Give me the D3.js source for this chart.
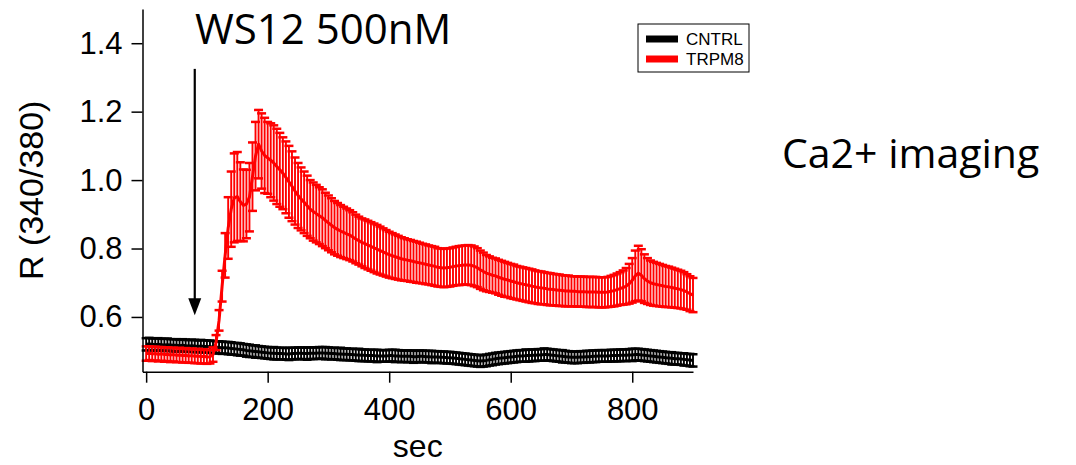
<!DOCTYPE html>
<html>
<head>
<meta charset="utf-8">
<script src="https://cdn.jsdelivr.net/npm/d3@7"></script>
<style>
  body { margin: 0; background: #fff; }
  svg { display: block; }
</style>
</head>
<body>
<script>
// sample interval of the recordings (sec)
const dt = 5;

// CNTRL mean / sem, one value every 5 s from 0 to 900
const cntrlMean = [
  0.520, 0.521, 0.520, 0.519, 0.520, 0.519, 0.518, 0.519, 0.518, 0.517,
  0.517, 0.516, 0.517, 0.516, 0.515, 0.516, 0.515, 0.514, 0.515, 0.514,
  0.514, 0.513, 0.512, 0.512, 0.511, 0.510, 0.510, 0.509, 0.508, 0.507,
  0.506, 0.505, 0.504, 0.502, 0.501, 0.500, 0.499, 0.498, 0.497, 0.496,
  0.495, 0.494, 0.494, 0.493, 0.493, 0.493, 0.492, 0.492, 0.493, 0.493,
  0.494, 0.494, 0.493, 0.493, 0.494, 0.494, 0.494, 0.495, 0.495, 0.494,
  0.494, 0.493, 0.493, 0.492, 0.492, 0.491, 0.491, 0.490, 0.490, 0.489,
  0.489, 0.488, 0.488, 0.487, 0.487, 0.487, 0.486, 0.486, 0.486, 0.486,
  0.487, 0.487, 0.486, 0.486, 0.485, 0.485, 0.485, 0.485, 0.484, 0.484,
  0.485, 0.485, 0.484, 0.484, 0.483, 0.483, 0.483, 0.482, 0.482, 0.481,
  0.481, 0.480, 0.479, 0.478, 0.477, 0.476, 0.475, 0.474, 0.473, 0.472,
  0.471, 0.472, 0.473, 0.475, 0.476, 0.478, 0.479, 0.480, 0.481, 0.482,
  0.483, 0.484, 0.485, 0.486, 0.486, 0.487, 0.487, 0.488, 0.488, 0.489,
  0.489, 0.490, 0.490, 0.489, 0.488, 0.487, 0.486, 0.485, 0.484, 0.483,
  0.482, 0.482, 0.482, 0.483, 0.483, 0.484, 0.484, 0.485, 0.485, 0.486,
  0.486, 0.486, 0.486, 0.487, 0.487, 0.487, 0.488, 0.488, 0.488, 0.489,
  0.489, 0.490, 0.490, 0.489, 0.488, 0.487, 0.486, 0.485, 0.484, 0.483,
  0.482, 0.481, 0.480, 0.479, 0.478, 0.478, 0.477, 0.476, 0.475, 0.474,
  0.473
];
const cntrlErr = [
  0.018, 0.018, 0.017, 0.018, 0.018, 0.017, 0.018, 0.018, 0.017, 0.018,
  0.018, 0.017, 0.018, 0.018, 0.017, 0.018, 0.018, 0.017, 0.018, 0.018,
  0.017, 0.018, 0.018, 0.017, 0.018, 0.018, 0.017, 0.018, 0.018, 0.017,
  0.018, 0.018, 0.017, 0.018, 0.018, 0.017, 0.018, 0.017, 0.017, 0.017,
  0.017, 0.017, 0.018, 0.017, 0.017, 0.017, 0.017, 0.018, 0.017, 0.017,
  0.017, 0.017, 0.017, 0.018, 0.017, 0.017, 0.017, 0.017, 0.017, 0.018,
  0.017, 0.017, 0.017, 0.017, 0.018, 0.017, 0.017, 0.017, 0.017, 0.017,
  0.018, 0.017, 0.017, 0.017, 0.017, 0.017, 0.018, 0.017, 0.017, 0.017,
  0.017, 0.017, 0.018, 0.017, 0.017, 0.017, 0.017, 0.017, 0.018, 0.017,
  0.017, 0.017, 0.017, 0.017, 0.018, 0.017, 0.017, 0.017, 0.017, 0.017,
  0.017, 0.017, 0.017, 0.017, 0.017, 0.017, 0.017, 0.017, 0.017, 0.017,
  0.017, 0.017, 0.017, 0.017, 0.017, 0.017, 0.017, 0.017, 0.017, 0.017,
  0.017, 0.017, 0.017, 0.017, 0.017, 0.018, 0.017, 0.017, 0.017, 0.017,
  0.017, 0.018, 0.017, 0.017, 0.017, 0.017, 0.017, 0.018, 0.017, 0.017,
  0.017, 0.017, 0.017, 0.017, 0.017, 0.017, 0.017, 0.017, 0.017, 0.017,
  0.017, 0.017, 0.017, 0.017, 0.017, 0.017, 0.017, 0.017, 0.017, 0.017,
  0.018, 0.017, 0.017, 0.017, 0.017, 0.017, 0.017, 0.017, 0.017, 0.017,
  0.017, 0.017, 0.017, 0.018, 0.017, 0.017, 0.017, 0.018, 0.017, 0.018,
  0.018
];

// TRPM8 mean / sem
const trpm8Mean = [
  0.493, 0.494, 0.492, 0.493, 0.491, 0.492, 0.490, 0.491, 0.489, 0.490,
  0.488, 0.489, 0.487, 0.488, 0.486, 0.487, 0.485, 0.486, 0.484, 0.485,
  0.483, 0.484, 0.490, 0.525, 0.590, 0.690, 0.780, 0.860, 0.915, 0.948,
  0.952, 0.937, 0.926, 0.930, 0.950, 1.010, 1.070, 1.105, 1.085, 1.072,
  1.065, 1.058, 1.050, 1.040, 1.030, 1.020, 1.008, 0.995, 0.982, 0.968,
  0.955, 0.945, 0.935, 0.925, 0.915, 0.908, 0.902, 0.896, 0.890, 0.882,
  0.875, 0.868, 0.861, 0.856, 0.851, 0.847, 0.843, 0.839, 0.834, 0.828,
  0.823, 0.818, 0.814, 0.810, 0.806, 0.802, 0.798, 0.794, 0.790, 0.786,
  0.782, 0.779, 0.776, 0.773, 0.770, 0.768, 0.766, 0.764, 0.762, 0.760,
  0.758, 0.756, 0.754, 0.752, 0.750, 0.748, 0.745, 0.744, 0.743, 0.744,
  0.745, 0.747, 0.749, 0.750, 0.751, 0.752, 0.752, 0.751, 0.748, 0.744,
  0.738, 0.733, 0.728, 0.725, 0.722, 0.720, 0.716, 0.713, 0.710, 0.708,
  0.705, 0.703, 0.700, 0.698, 0.696, 0.694, 0.692, 0.690, 0.688, 0.686,
  0.685, 0.684, 0.682, 0.681, 0.680, 0.679, 0.678, 0.677, 0.676, 0.676,
  0.675, 0.675, 0.674, 0.674, 0.674, 0.673, 0.673, 0.673, 0.673, 0.672,
  0.672, 0.672, 0.673, 0.675, 0.677, 0.680, 0.683, 0.686, 0.690, 0.697,
  0.707, 0.720, 0.728, 0.722, 0.712, 0.705, 0.700, 0.697, 0.695, 0.693,
  0.691, 0.689, 0.688, 0.686, 0.684, 0.682, 0.680, 0.677, 0.673, 0.668,
  0.664
];
const trpm8Err = [
  0.021, 0.020, 0.021, 0.020, 0.021, 0.020, 0.021, 0.020, 0.021, 0.020,
  0.020, 0.021, 0.020, 0.021, 0.020, 0.021, 0.020, 0.021, 0.020, 0.021,
  0.020, 0.020, 0.021, 0.022, 0.030, 0.045, 0.065, 0.090, 0.110, 0.130,
  0.130, 0.115, 0.105, 0.100, 0.100, 0.100, 0.100, 0.100, 0.110, 0.110,
  0.105, 0.108, 0.110, 0.110, 0.108, 0.105, 0.105, 0.105, 0.102, 0.098,
  0.095, 0.092, 0.090, 0.088, 0.085, 0.085, 0.084, 0.083, 0.083, 0.081,
  0.080, 0.079, 0.078, 0.077, 0.076, 0.075, 0.074, 0.073, 0.072, 0.071,
  0.070, 0.070, 0.071, 0.071, 0.071, 0.071, 0.071, 0.070, 0.069, 0.068,
  0.067, 0.066, 0.065, 0.064, 0.063, 0.062, 0.061, 0.061, 0.060, 0.060,
  0.059, 0.058, 0.058, 0.057, 0.057, 0.057, 0.056, 0.056, 0.056, 0.056,
  0.056, 0.056, 0.056, 0.057, 0.057, 0.057, 0.058, 0.058, 0.058, 0.057,
  0.056, 0.055, 0.053, 0.052, 0.051, 0.051, 0.051, 0.051, 0.051, 0.050,
  0.050, 0.050, 0.049, 0.049, 0.049, 0.049, 0.049, 0.049, 0.048, 0.048,
  0.048, 0.047, 0.047, 0.047, 0.046, 0.046, 0.046, 0.045, 0.045, 0.045,
  0.044, 0.044, 0.044, 0.044, 0.044, 0.044, 0.044, 0.044, 0.044, 0.044,
  0.044, 0.044, 0.044, 0.045, 0.046, 0.047, 0.048, 0.050, 0.053, 0.058,
  0.065, 0.074, 0.080, 0.076, 0.071, 0.067, 0.065, 0.064, 0.063, 0.062,
  0.061, 0.060, 0.059, 0.058, 0.057, 0.056, 0.055, 0.054, 0.052, 0.051,
  0.050
];

const xTicks = [0, 200, 400, 600, 800];
const yTicks = [0.6, 0.8, 1.0, 1.2, 1.4];
const seriesNames = ['CNTRL', 'TRPM8'];
const seriesColors = ['#000000', '#ff0000'];

// WS12 application
const arrowTime = 80;
const arrowFrom = 1.325;
const arrowTo = 0.605;

const width = 1076, height = 465;

const svg = d3.select('body').append('svg')
  .attr('width', width)
  .attr('height', height)
  .style('background', '#fff');

const x = d3.scaleLinear().domain([-6, 900]).range([142.5, 693]);
const y = d3.scaleLinear().domain([0.44, 1.5]).range([371.7, 9]);

const series = [
  {name: seriesNames[0], color: seriesColors[0], mean: cntrlMean, err: cntrlErr},
  {name: seriesNames[1], color: seriesColors[1], mean: trpm8Mean, err: trpm8Err}
].map(s => ({
  ...s,
  points: s.mean.map((m, i) => ({t: i * dt, m: m, e: s.err[i]}))
}));

const plot = svg.append('g');
const line = d3.line().x(d => x(d.t)).y(d => y(d.m));
const capHalf = 4.5;

series.forEach(s => {
  const g = plot.append('g').attr('class', 'series');
  const bars = g.selectAll('.bar')
    .data(s.points)
    .enter().append('g')
    .attr('class', 'bar')
    .attr('stroke', s.color);
  bars.append('line')
    .attr('x1', d => x(d.t)).attr('x2', d => x(d.t))
    .attr('y1', d => y(d.m - d.e)).attr('y2', d => y(d.m + d.e))
    .attr('stroke-width', 1.9);
  bars.append('line')
    .attr('x1', d => x(d.t) - capHalf).attr('x2', d => x(d.t) + capHalf)
    .attr('y1', d => y(d.m + d.e)).attr('y2', d => y(d.m + d.e))
    .attr('stroke-width', 2.5);
  bars.append('line')
    .attr('x1', d => x(d.t) - capHalf).attr('x2', d => x(d.t) + capHalf)
    .attr('y1', d => y(d.m - d.e)).attr('y2', d => y(d.m - d.e))
    .attr('stroke-width', 2.5);
  g.append('path')
    .datum(s.points)
    .attr('d', line)
    .attr('fill', 'none')
    .attr('stroke', s.color)
    .attr('stroke-width', 3)
    .attr('stroke-linejoin', 'round');
});

// axes
const axisFont = 'Liberation Sans, Arial, sans-serif';

const yAxis = svg.append('g')
  .attr('transform', `translate(${x.range()[0]},0)`)
  .call(d3.axisLeft(y).tickValues(yTicks).tickFormat(d3.format('.1f'))
    .tickSize(11).tickSizeOuter(0).tickPadding(9));

const xAxis = svg.append('g')
  .attr('transform', `translate(0,${y.range()[0]})`)
  .call(d3.axisBottom(x).tickValues(xTicks).tickFormat(d3.format('d'))
    .tickSize(11).tickSizeOuter(0).tickPadding(15));

[xAxis, yAxis].forEach(a => {
  a.selectAll('path, line').attr('stroke', '#000').attr('stroke-width', 1.5);
  a.selectAll('text').attr('fill', '#000')
    .style('font-family', axisFont).style('font-size', '31px');
});

svg.append('text')
  .attr('x', (x.range()[0] + x.range()[1]) / 2)
  .attr('y', 457)
  .attr('text-anchor', 'middle')
  .style('font-family', axisFont).style('font-size', '32px')
  .text('sec');

svg.append('text')
  .attr('transform', `translate(43,${(y.range()[0] + y.range()[1]) / 2}) rotate(-90)`)
  .attr('text-anchor', 'middle')
  .style('font-family', axisFont).style('font-size', '34px')
  .text('R (340/380)');

// stimulus arrow
const ax = x(arrowTime);
svg.append('line')
  .attr('x1', ax).attr('x2', ax)
  .attr('y1', y(arrowFrom)).attr('y2', y(arrowTo) - 12)
  .attr('stroke', '#000').attr('stroke-width', 2.2);
svg.append('path')
  .attr('d', `M${ax - 6.5},${y(arrowTo) - 17} L${ax + 6.5},${y(arrowTo) - 17} L${ax},${y(arrowTo)} Z`)
  .attr('fill', '#000');

svg.append('text')
  .attr('x', 195).attr('y', 44)
  .style('font-family', 'Open Sans, sans-serif').style('font-size', '42px')
  .text('WS12 500nM');

svg.append('text')
  .attr('x', 782).attr('y', 168)
  .style('font-family', 'Open Sans, sans-serif').style('font-size', '41px')
  .text('Ca2+ imaging');

// legend
const legend = svg.append('g').attr('transform', 'translate(638,24)');
legend.append('rect')
  .attr('width', 111).attr('height', 48)
  .attr('fill', '#fff').attr('stroke', '#000').attr('stroke-width', 1);
const items = legend.selectAll('.item')
  .data(series)
  .enter().append('g')
  .attr('class', 'item')
  .attr('transform', (d, i) => `translate(0,${15 + i * 20})`);
items.append('line')
  .attr('x1', 8).attr('x2', 40)
  .attr('stroke', d => d.color).attr('stroke-width', 7);
items.append('text')
  .attr('x', 48).attr('dy', '0.36em')
  .style('font-family', axisFont).style('font-size', '17px')
  .text(d => d.name);
</script>
</body>
</html>
